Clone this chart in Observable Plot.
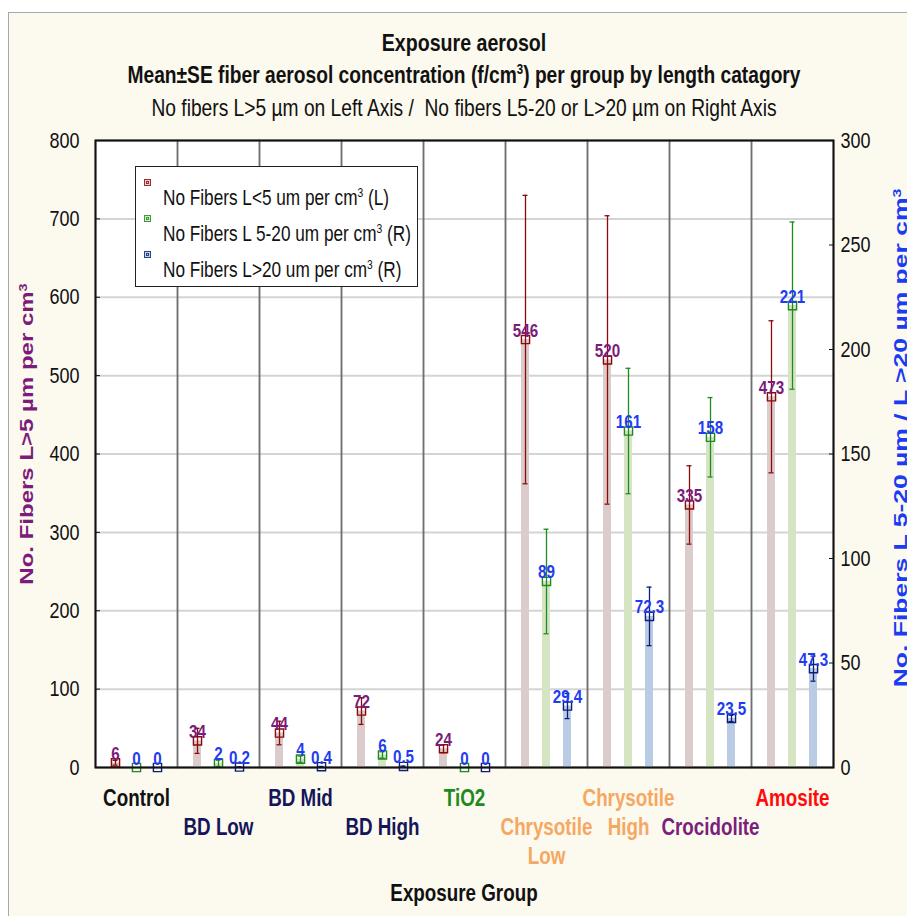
<!DOCTYPE html>
<html><head><meta charset="utf-8">
<script src="https://cdn.jsdelivr.net/npm/d3@7"></script>
<script src="https://cdn.jsdelivr.net/npm/@observablehq/plot@0.6"></script>
<style>
body{margin:0;background:#fff;}
#wrap{position:relative;width:907px;height:916px;overflow:hidden;font-family:"Liberation Sans",Arial,sans-serif;}
#panel{position:absolute;left:8px;top:12px;width:899px;height:904px;background:#FCF9EE;border-left:1.5px solid #a8a8a8;border-top:1.5px solid #a8a8a8;box-sizing:border-box;}
.t{position:absolute;left:-136px;width:1200px;text-align:center;color:#111;white-space:nowrap;line-height:26px;font-size:24px;transform:scaleX(0.8);transform-origin:600px 0;}
.b{font-weight:bold;}
sup{font-size:60%;line-height:0;vertical-align:0.6em;}
#chart{position:absolute;left:0;top:0;}
.yt{position:absolute;white-space:nowrap;font-weight:bold;font-size:24px;line-height:28px;}
#legend{position:absolute;left:135px;top:166px;width:283px;height:121px;background:#fff;border:1.5px solid #222;box-sizing:border-box;}
.lrow{position:absolute;left:0;width:100%;height:36px;}
.lmk{position:absolute;left:8px;width:7px;height:7px;box-sizing:border-box;border:1px solid;}
.lmk i{position:absolute;left:1px;top:1px;width:3px;height:3px;border:1px solid;box-sizing:border-box;}
.ltx{position:absolute;left:27px;font-size:21.5px;color:#111;white-space:nowrap;line-height:24px;transform:scaleX(0.8);transform-origin:0 0;}
</style></head>
<body>
<div id="wrap">
  <div id="panel"></div>
  <div id="chart"></div>
  <div class="t b" style="top:30px;font-size:24.5px">Exposure aerosol</div>
  <div class="t b" style="top:62px">Mean±SE fiber aerosol concentration (f/cm<sup>3</sup>) per group by length catagory</div>
  <div class="t" style="top:95px">No fibers L&gt;5 µm on Left Axis / &nbsp;No fibers L5-20 or L&gt;20 µm on Right Axis</div>
  <div class="t b" style="top:880px;font-size:23.5px">Exposure Group</div>
  <div class="yt" style="left:27px;top:434px;color:#7b1c7b;transform:translate(-50%,-50%) rotate(-90deg) scale(1,0.75);">No. Fibers L&gt;5 µm per cm<sup>3</sup></div>
  <div class="yt" style="left:901px;top:438px;font-size:26.5px;color:#1a3cf2;transform:translate(-50%,-50%) rotate(-90deg) scale(1,0.7);">No. Fibers L 5-20 µm / L &gt;20 µm per cm<sup>3</sup></div>
  <div id="legend"></div>
</div>
<script>
// ---- data ----
const groups = ["Control","BD Low","BD Mid","BD High","TiO2","Chrysotile Low","Chrysotile High","Crocidolite","Amosite"];
const groupLabels = ["Control","BD Low","BD Mid","BD High","TiO2","Chrysotile\nLow","Chrysotile\nHigh","Crocidolite","Amosite"];
const groupLabelRow = [0,1,0,1,0,1,0,1,0];
const groupColors = ["#111111","#15155a","#15155a","#15155a","#1e8a1e","#f5a862","#f5a862","#7a1f7a","#ff0a0a"];

const seriesKeys = ["S","M","L"];
const seriesNames = ["No Fibers L<5 um per cm|3| (L)","No Fibers L 5-20 um per cm|3| (R)","No Fibers L>20 um per cm|3| (R)"];
const seriesAxis = ["left","right","right"];

const meanShort = [6,34,44,72,24,546,520,335,473];
const seShort   = [3,16,15,17,5,184,184,50,97];
const meanMid   = [0,2,4,6,0,89,161,158,221];
const seMid     = [0,1.5,1.5,1.5,0,25,30,19,40];
const meanLong  = [0,0.2,0.4,0.5,0,29.4,72.3,23.5,47.3];
const seLong    = [0,0.1,0.1,0.2,0,6,14,1.5,6];

const leftTicks  = [0,100,200,300,400,500,600,700,800];
const rightTicks = [0,50,100,150,200,250,300];

// ---- styles ----
const barFill   = {S:"#dccbcb", M:"#d5e4c2", L:"#b9cce4"};
const markStroke= {S:"#8e0a0a", M:"#1f8a1f", L:"#0c1f7a"};
const labelFill = {S:"#7b1c7b", M:"#1f3cf0", L:"#1f3cf0"};
const font = '"Liberation Sans",Arial,sans-serif';
const squash = 0.8;

const k = 800/300; // right-axis values drawn on left-axis scale
const means = [meanShort, meanMid, meanLong];
const ses = [seShort, seMid, seLong];
const rows = [];
groups.forEach((g,i) => seriesKeys.forEach((s,j) => {
  const f = seriesAxis[j] === "left" ? 1 : k;
  const v = means[j][i], e = ses[j][i];
  rows.push({g, s, v, y: v*f, lo: Math.max(0,(v-e))*f, hi: (v+e)*f, label: String(v)});
}));

const seriesMarks = seriesKeys.flatMap(s => {
  const d = rows.filter(r => r.s === s);
  const de = d.filter(r => r.hi > r.lo);
  return [
    Plot.barY(d, {fx:"g", x:"s", y:"y", fill: barFill[s]}),
    Plot.ruleX(de, {fx:"g", x:"s", y1:"lo", y2:"hi", stroke: markStroke[s], strokeWidth:1.3}),
    Plot.tickY(de, {fx:"g", x:"s", y:"hi", stroke: markStroke[s], strokeWidth:1.3, insetLeft:1.5, insetRight:1.5}),
    Plot.tickY(de, {fx:"g", x:"s", y:"lo", stroke: markStroke[s], strokeWidth:1.3, insetLeft:1.5, insetRight:1.5}),
    Plot.dot(d, {fx:"g", x:"s", y:"y", symbol:"square", r:4.6, stroke: markStroke[s], strokeWidth:1.4, fill:"none"})
  ];
});
const labelMarks = seriesKeys.map(s => Plot.text(rows.filter(r => r.s === s), {
  fx:"g", x:"s", y:"y", text:"label", lineAnchor:"bottom", dy:-3,
  fill: labelFill[s], fontWeight:"bold", fontSize:19, fontFamily: font
}));

const xLabelMark = (row, dy) => Plot.text(groups.filter((g,i) => groupLabelRow[i] === row), {
  fx: d => d, frameAnchor:"bottom", lineAnchor:"top", dy,
  text: d => groupLabels[groups.indexOf(d)],
  fill: d => groupColors[groups.indexOf(d)],
  fontWeight:"bold", fontSize:23.5, fontFamily: font, lineHeight:1.24, ariaLabel:"xlab"
});

const chart = Plot.plot({
  width: 907, height: 916,
  marginTop: 140, marginBottom: 149, marginLeft: 92, marginRight: 71,
  style: {background:"transparent", fontFamily: font, color:"#111"},
  fx: {domain: groups, padding: 0, axis: null},
  x: {domain: seriesKeys, paddingInner: 0.62, paddingOuter: 0.68, axis: null},
  y: {domain: [0, 800], axis: null},
  marks: [
    Plot.frame({fill:"white"}),
    Plot.gridY(leftTicks, {stroke:"#d4d4d4", strokeOpacity:1, strokeWidth:2}),
    Plot.frame({stroke:"#707070", strokeWidth:1.5}),
    ...seriesMarks,
    ...labelMarks,
    Plot.axisY(leftTicks, {anchor:"left", tickSize:-5, tickPadding:21, fontSize:22.5, fontFamily: font, stroke:"#111"}),
    Plot.axisY(rightTicks.map(v => v*k), {anchor:"right", tickSize:-5, tickPadding:12, fontSize:22.5, fontFamily: font, stroke:"#111", tickFormat: d => String(Math.round(d/k))}),
    xLabelMark(0, 18),
    xLabelMark(1, 47),
    Plot.frame({facet:"super", stroke:"#111", strokeWidth:2})
  ]
});
document.getElementById("chart").appendChild(chart);

// condensed look: squash all chart text horizontally about its anchor
d3.select(chart).selectAll("text").each(function(){
  const tr = this.getAttribute("transform") || "";
  this.setAttribute("transform", tr + ` scale(${squash},1)`);
});

// white boxes behind group labels
d3.select(chart).selectAll('g[aria-label="xlab"] text').each(function(){
  const b = this.getBBox();
  d3.select(this.parentNode).insert("rect", () => this)
    .attr("x", b.x - 2).attr("y", b.y).attr("width", b.width + 4).attr("height", b.height)
    .attr("fill", "white").attr("transform", this.getAttribute("transform"));
});

// legend
const leg = document.getElementById("legend");
const legTops = [10, 46, 82];
seriesKeys.forEach((s,j) => {
  const r = document.createElement("div");
  r.className = "lrow"; r.style.top = legTops[j] + "px";
  const m = document.createElement("span");
  m.className = "lmk"; m.style.top = "2px";
  m.style.borderColor = markStroke[s]; m.style.background = barFill[s]; m.style.opacity = 0.85;
  const inner = document.createElement("i"); inner.style.borderColor = markStroke[s];
  m.appendChild(inner);
  const t = document.createElement("span");
  t.className = "ltx"; t.style.top = "9px";
  const parts = seriesNames[j].split("|");
  t.innerHTML = parts[0].replace(/</g,"&lt;").replace(/>/g,"&gt;") + "<sup>" + parts[1] + "</sup>" + parts[2];
  r.appendChild(m); r.appendChild(t); leg.appendChild(r);
});
</script>
</body></html>
